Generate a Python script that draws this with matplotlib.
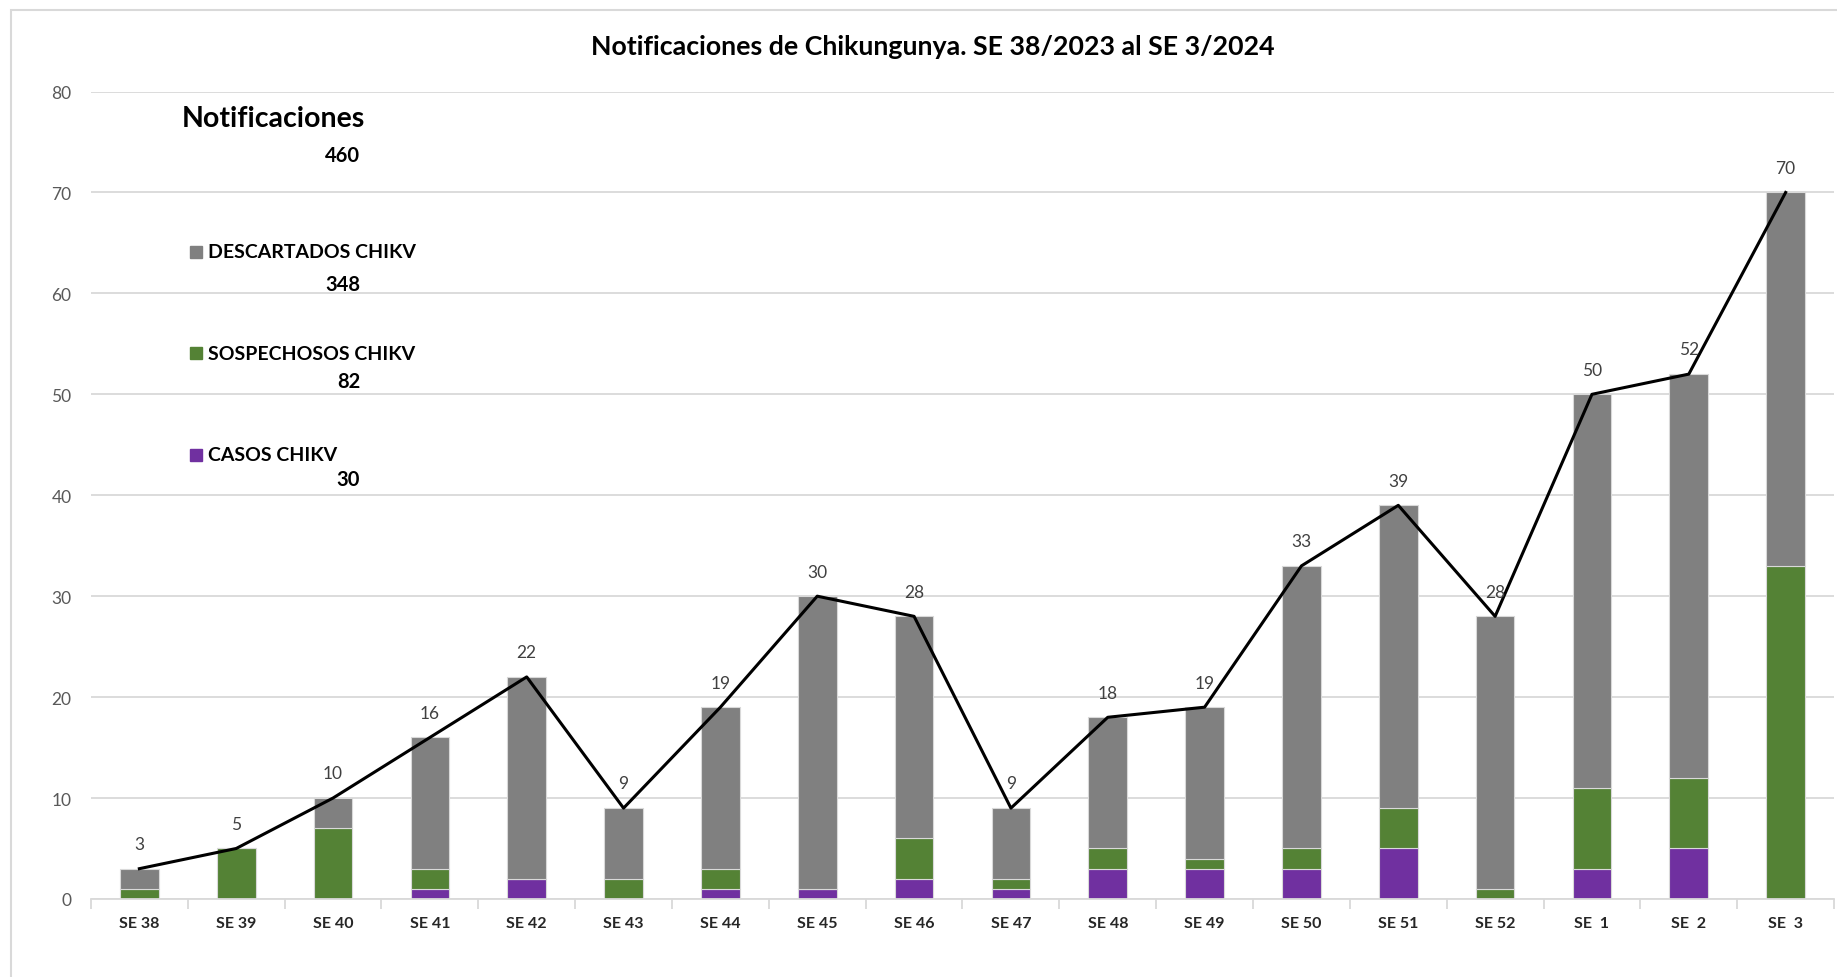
import numpy as np
import matplotlib
matplotlib.use("Agg")
import matplotlib.pyplot as plt
from matplotlib.patches import Rectangle

plt.rcParams['font.family'] = ['Lato', 'DejaVu Sans']

semanas = ['SE 38', 'SE 39', 'SE 40', 'SE 41', 'SE 42', 'SE 43', 'SE 44', 'SE 45', 'SE 46',
           'SE 47', 'SE 48', 'SE 49', 'SE 50', 'SE 51', 'SE 52', 'SE  1', 'SE  2', 'SE  3']
casos = [0, 0, 0, 1, 2, 0, 1, 1, 2, 1, 3, 3, 3, 5, 0, 3, 5, 0]
sospechosos = [1, 5, 7, 2, 0, 2, 2, 0, 4, 1, 2, 1, 2, 4, 1, 8, 7, 33]
descartados = [2, 0, 3, 13, 20, 7, 16, 29, 22, 7, 13, 15, 28, 30, 27, 39, 40, 37]
totales = [3, 5, 10, 16, 22, 9, 19, 30, 28, 9, 18, 19, 33, 39, 28, 50, 52, 70]

c_casos = '#7030A0'
c_sosp = '#548235'
c_desc = '#808080'

fig = plt.figure(figsize=(18.37, 9.78), dpi=100)
ax = fig.add_axes([0.0495, 0.0798, 0.9489, 0.8256])

x = np.arange(len(semanas))
casos = np.array(casos)
sospechosos = np.array(sospechosos)
descartados = np.array(descartados)
w = 0.4
ax.bar(x, casos, w, color=c_casos, edgecolor='#d9d9d9', linewidth=0.8, zorder=2)
ax.bar(x, sospechosos, w, bottom=casos, color=c_sosp, edgecolor='#d9d9d9', linewidth=0.8, zorder=2)
ax.bar(x, descartados, w, bottom=casos + sospechosos, color=c_desc, edgecolor='#d9d9d9', linewidth=0.8, zorder=2)

ax.plot(x, totales, color='black', linewidth=2.2, zorder=3)
for xi, t in zip(x, totales):
    ax.annotate(str(t), (xi, t), xytext=(0, 12), textcoords='offset points',
                ha='center', va='bottom', fontsize=12.5, color='#404040')

ax.set_xlim(-0.5, len(semanas) - 0.5)
ax.set_ylim(0, 80)
ax.set_yticks(range(0, 81, 10))
ax.yaxis.grid(True, color='#d9d9d9', linewidth=1.3, zorder=0)
ax.set_axisbelow(True)
for s in ['top', 'right', 'left']:
    ax.spines[s].set_visible(False)
ax.spines['bottom'].set_color('#d9d9d9')
ax.spines['bottom'].set_linewidth(1.3)
ax.tick_params(axis='y', length=0, labelsize=12.5, labelcolor='#595959', pad=14)
ax.set_xticks(x)
ax.set_xticklabels(semanas, fontsize=11.5, fontweight='bold', color='#262626')
ax.tick_params(axis='x', length=0, pad=12)
ax.set_xticks(np.arange(-0.5, len(semanas), 1), minor=True)
ax.tick_params(axis='x', which='minor', length=7, color='#d9d9d9', width=1.3)

fig.text(0.508, 0.952, 'Notificaciones de Chikungunya. SE 38/2023 al SE 3/2024',
         ha='center', va='center', fontsize=19.3, fontweight='bold', color='black')

# leyenda con totales
fig.text(182 / 1837, 1 - 119 / 978, 'Notificaciones', ha='left', va='center',
         fontsize=20.5, fontweight='bold')
entradas = [('DESCARTADOS CHIKV', descartados.sum(), c_desc, 253, 285),
            ('SOSPECHOSOS CHIKV', sospechosos.sum(), c_sosp, 354, 382),
            ('CASOS CHIKV', casos.sum(), c_casos, 456, 480)]
fig.text(360 / 1837, 1 - 156 / 978, str(sum(totales)), ha='right', va='center',
         fontsize=14.5, fontweight='bold')
for nombre, total, col, yl, yn in entradas:
    fig.patches.append(Rectangle((190 / 1837, 1 - (yl + 6) / 978), 12 / 1837, 12 / 978,
                                 transform=fig.transFigure, color=col))
    fig.text(208 / 1837, 1 - yl / 978, nombre, ha='left', va='center',
             fontsize=14, fontweight='bold')
    fig.text(360 / 1837, 1 - yn / 978, str(total), ha='right', va='center',
             fontsize=14.5, fontweight='bold')

fig.patches.append(Rectangle((11 / 1837, -0.01), 1.02, 1 - 11 / 978 + 0.01,
                             transform=fig.transFigure, fill=False,
                             edgecolor='#d9d9d9', linewidth=1.5))

fig.savefig('out.png', dpi=100)
